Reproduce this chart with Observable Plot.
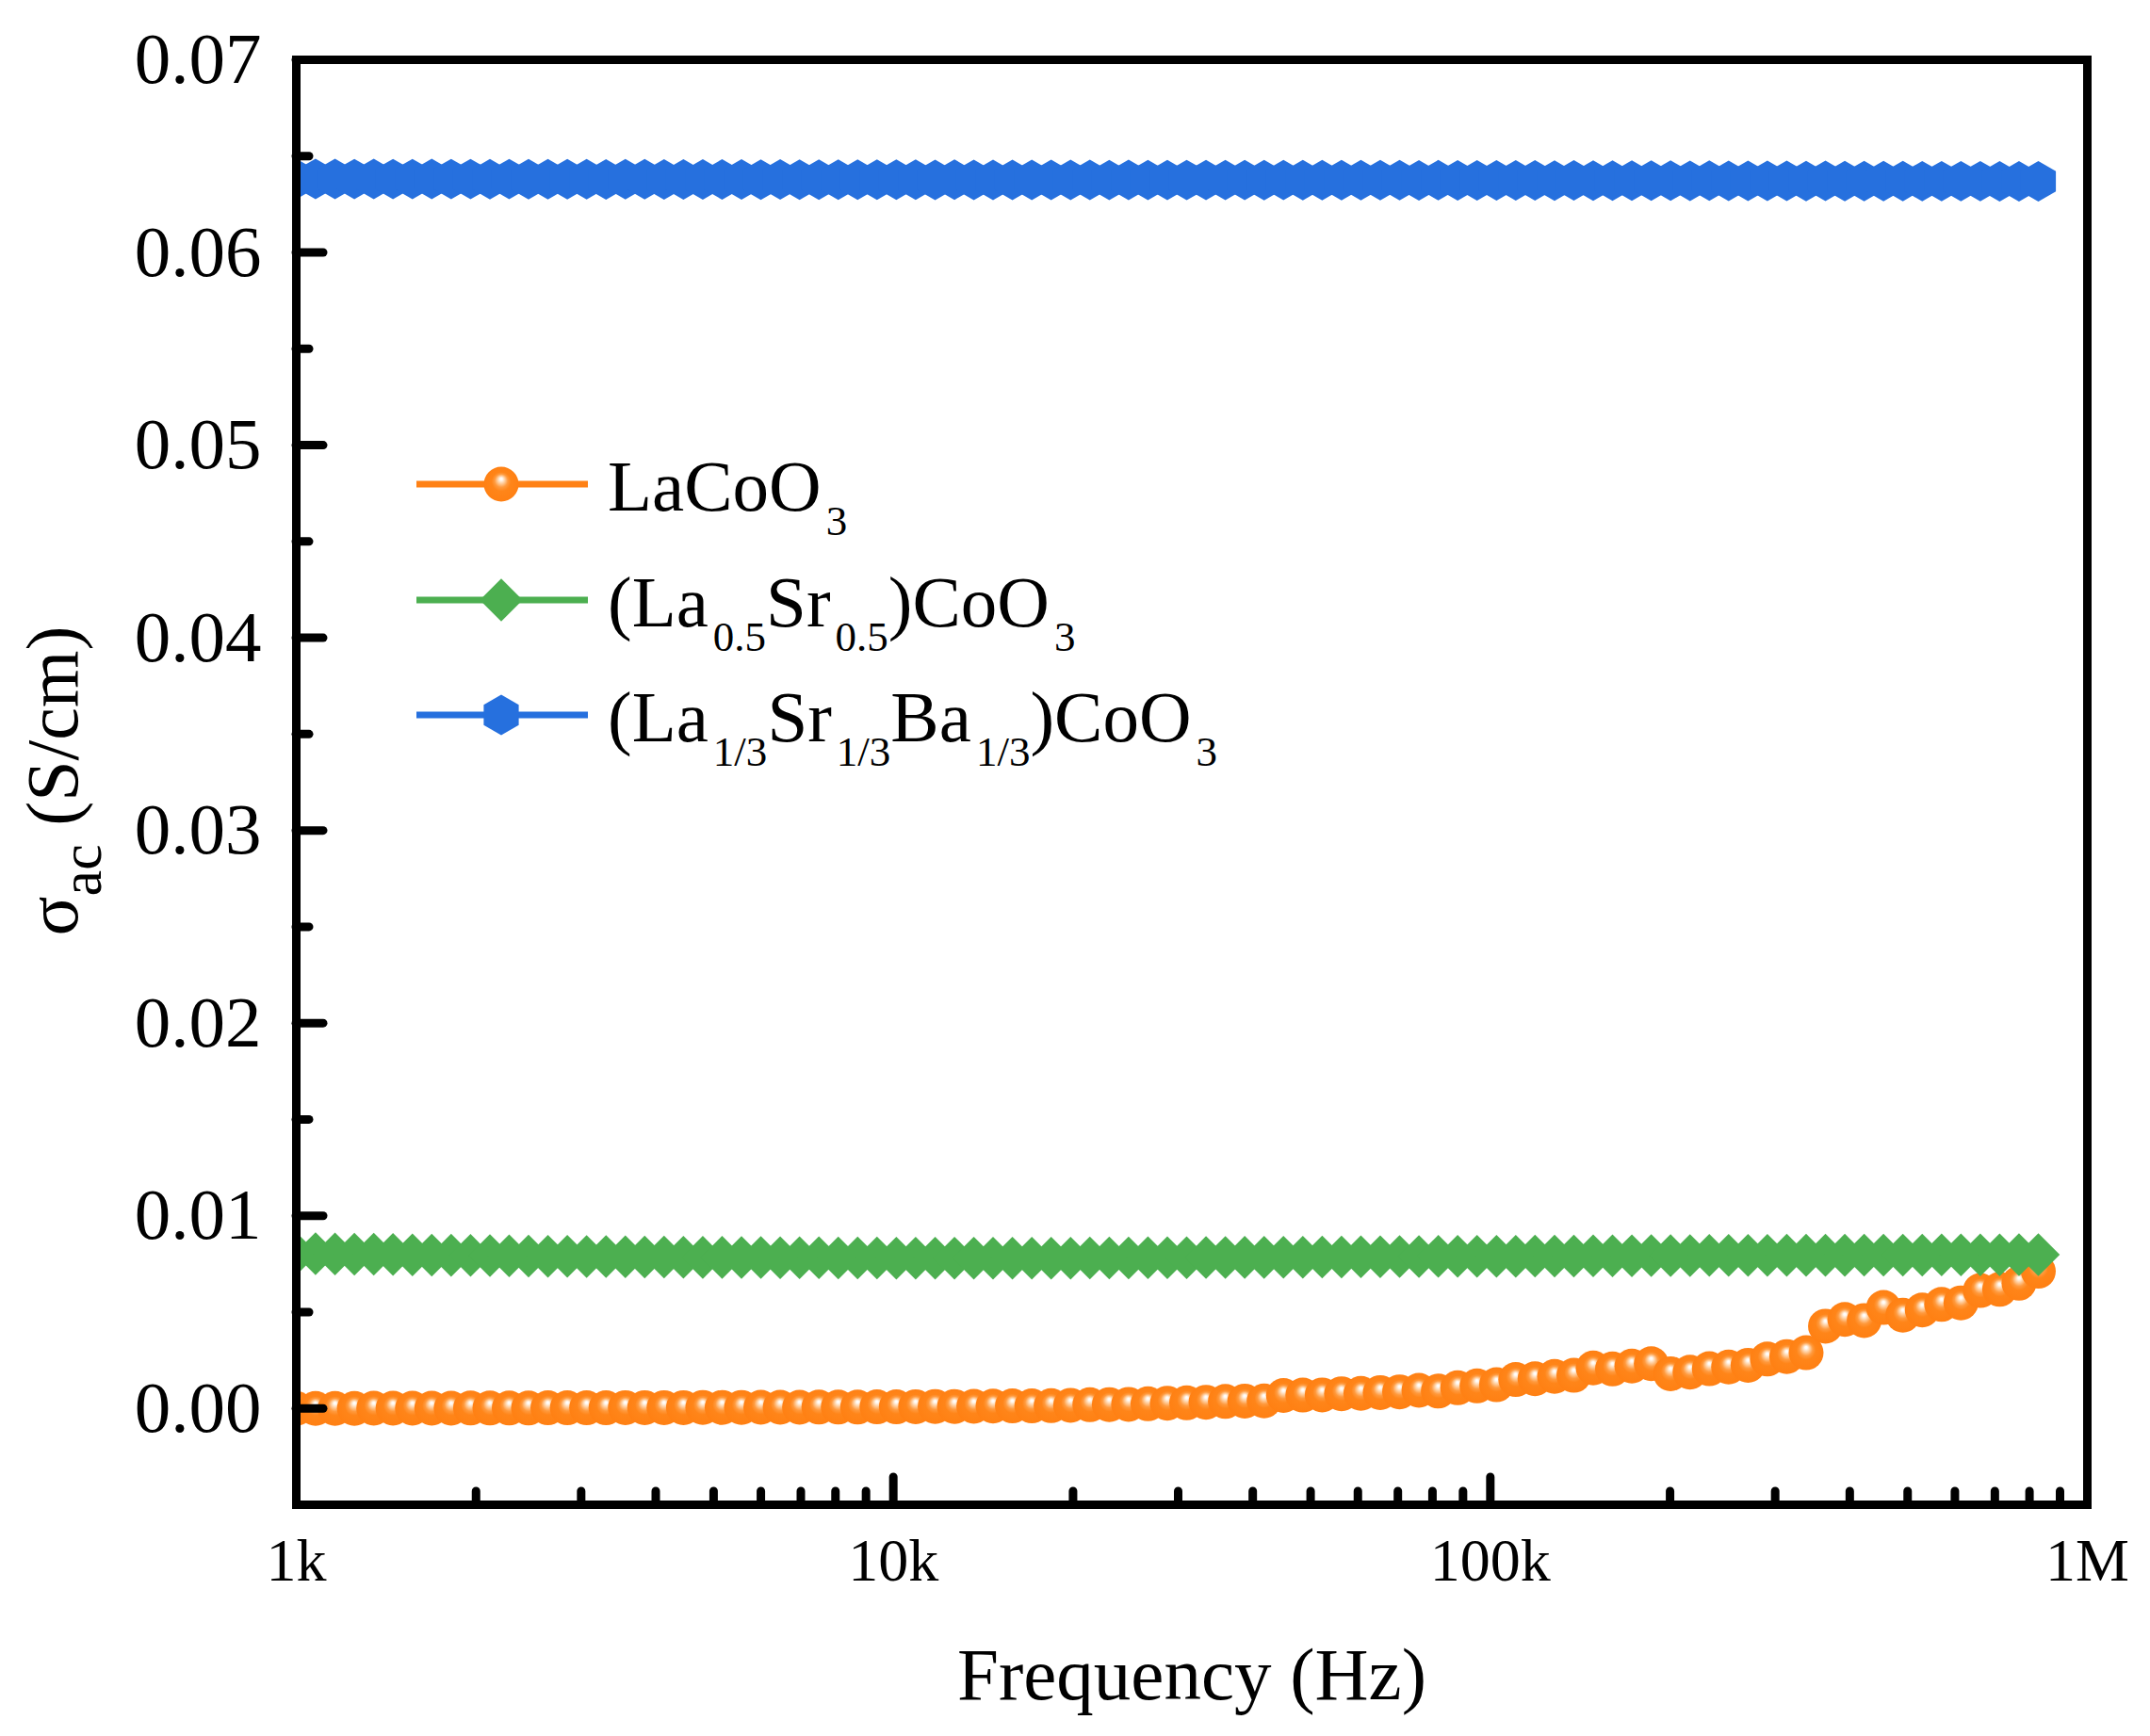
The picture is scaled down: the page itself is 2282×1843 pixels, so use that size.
<!DOCTYPE html>
<html>
<head>
<meta charset="utf-8">
<script src="https://cdn.jsdelivr.net/npm/d3@7"></script>
<script src="https://cdn.jsdelivr.net/npm/@observablehq/plot@0.6"></script>
<style>
  html, body { margin: 0; padding: 0; background: #fff; overflow: hidden; }
  svg { display: block; }
</style>
</head>
<body>
<div id="chart"></div>
<script>
// ---- data ----
const freqHz = [
  1000, 1077, 1161, 1251, 1348, 1452, 1565, 1686, 1817, 1958,
  2110, 2273, 2449, 2639, 2844, 3064, 3302, 3558, 3833, 4130,
  4451, 4796, 5167, 5568, 5999, 6464, 6965, 7505, 8087, 8714, 9389,
  10117, 10900, 11750, 12660, 13640, 14690, 15830, 17060, 18380, 19810,
  21340, 23000, 24780, 26700, 28770, 31000, 33400, 35990, 38780, 41790,
  45030, 48520, 52280, 56330, 60700, 65400, 70470, 75930, 81820, 88160, 95000,
  102400, 110300, 118800, 128100, 138000, 148700, 160200, 172600, 186000, 200400,
  216000, 232700, 250700, 270200, 291100, 313700, 338000, 364200, 392400, 422800,
  455600, 490900, 529000, 570000, 614100, 661700, 713000, 768300, 827800
];
const lacoo3 = [
  0.00000, 0.00000, 0.00000, 0.00000, 0.00001, 0.00001, 0.00001, 0.00001, 0.00001, 0.00002,
  0.00002, 0.00002, 0.00002, 0.00003, 0.00003, 0.00003, 0.00003, 0.00004, 0.00004, 0.00004,
  0.00004, 0.00005, 0.00005, 0.00005, 0.00006, 0.00006, 0.00006, 0.00007, 0.00007, 0.00007, 0.00008,
  0.00008, 0.00009, 0.00010, 0.00010, 0.00011, 0.00012, 0.00013, 0.00013, 0.00014, 0.00016,
  0.00019, 0.00020, 0.00021, 0.00024, 0.00027, 0.00029, 0.00032, 0.00036, 0.00038, 0.00039,
  0.00067, 0.00069, 0.00070, 0.00076, 0.00078, 0.00082, 0.00086, 0.00094, 0.00090, 0.00107, 0.00117,
  0.00123, 0.00150, 0.00154, 0.00166, 0.00172, 0.00210, 0.00205, 0.00220, 0.00232, 0.00180,
  0.00188, 0.00206, 0.00215, 0.00224, 0.00256, 0.00269, 0.00289, 0.00427, 0.00462, 0.00456,
  0.00524, 0.00484, 0.00511, 0.00540, 0.00548, 0.00612, 0.00618, 0.00650, 0.00712
];
const laSr = [
  0.00803, 0.00803, 0.00802, 0.00801, 0.00800, 0.00799, 0.00797, 0.00796, 0.00795, 0.00794,
  0.00793, 0.00792, 0.00791, 0.00790, 0.00789, 0.00788, 0.00788, 0.00787, 0.00786, 0.00786,
  0.00785, 0.00784, 0.00784, 0.00783, 0.00783, 0.00782, 0.00782, 0.00782, 0.00781, 0.00781, 0.00781,
  0.00780, 0.00780, 0.00780, 0.00780, 0.00780, 0.00780, 0.00780, 0.00780, 0.00780, 0.00780,
  0.00781, 0.00781, 0.00781, 0.00782, 0.00782, 0.00782, 0.00783, 0.00783, 0.00784, 0.00784,
  0.00785, 0.00785, 0.00786, 0.00786, 0.00787, 0.00787, 0.00788, 0.00788, 0.00789, 0.00789, 0.00790,
  0.00790, 0.00790, 0.00791, 0.00791, 0.00791, 0.00792, 0.00792, 0.00792, 0.00793, 0.00793,
  0.00793, 0.00794, 0.00794, 0.00794, 0.00794, 0.00795, 0.00795, 0.00795, 0.00795, 0.00796,
  0.00796, 0.00796, 0.00796, 0.00797, 0.00797, 0.00797, 0.00797, 0.00798, 0.00798
];
const laSrBa = [
  0.06382, 0.06382, 0.06382, 0.06381, 0.06382, 0.06381, 0.06381, 0.06382, 0.06381, 0.06381,
  0.06380, 0.06381, 0.06380, 0.06380, 0.06380, 0.06380, 0.06379, 0.06380, 0.06380, 0.06379,
  0.06379, 0.06379, 0.06379, 0.06379, 0.06378, 0.06379, 0.06378, 0.06378, 0.06378, 0.06378, 0.06378,
  0.06378, 0.06378, 0.06377, 0.06378, 0.06377, 0.06377, 0.06377, 0.06377, 0.06377, 0.06377,
  0.06377, 0.06376, 0.06377, 0.06376, 0.06376, 0.06376, 0.06376, 0.06376, 0.06376, 0.06375,
  0.06376, 0.06375, 0.06375, 0.06375, 0.06375, 0.06375, 0.06375, 0.06374, 0.06375, 0.06374, 0.06374,
  0.06374, 0.06374, 0.06374, 0.06373, 0.06374, 0.06373, 0.06373, 0.06373, 0.06373, 0.06373,
  0.06372, 0.06373, 0.06372, 0.06372, 0.06372, 0.06372, 0.06371, 0.06372, 0.06371, 0.06371,
  0.06371, 0.06371, 0.06370, 0.06370, 0.06370, 0.06370, 0.06369, 0.06369, 0.06369
];

const seriesColors = ["#FF8115", "#4CAF50", "#2670DE"];
const seriesSymbols = ["circle", "diamond2", "hexagon"];

const xTicks = [1e3, 1e4, 1e5, 1e6];
const xTickLabels = ["1k", "10k", "100k", "1M"];
const xMajorInner = [1e4, 1e5];
const xMinor = [2e3, 3e3, 4e3, 5e3, 6e3, 7e3, 8e3, 9e3,
                2e4, 3e4, 4e4, 5e4, 6e4, 7e4, 8e4, 9e4,
                2e5, 3e5, 4e5, 5e5, 6e5, 7e5, 8e5, 9e5];
const yTicks = [0, 0.01, 0.02, 0.03, 0.04, 0.05, 0.06, 0.07];
const yTickLabels = ["0.00", "0.01", "0.02", "0.03", "0.04", "0.05", "0.06", "0.07"];
const yMinor = [0.005, 0.015, 0.025, 0.035, 0.045, 0.055, 0.065];

// ---- layout ----
const W = 2282, H = 1843;
const mL = 314, mR = 67, mT = 63, mB = 246;
const plotW = W - mL - mR, plotH = H - mT - mB;
const serif = "'Liberation Serif', 'Times New Roman', serif";
const majorLen = 29, minorLen = 14, tickW = 9;

const rows = freqHz.map((f, i) => ({f, a: lacoo3[i], b: laSr[i], c: laSrBa[i]}));

const radii = [18.5, 20.5, 18.6];

const svg = Plot.plot({
  width: W, height: H,
  marginLeft: mL, marginRight: mR, marginTop: mT, marginBottom: mB,
  style: {background: "white", fontFamily: serif, color: "black", overflow: "visible"},
  x: {type: "log", domain: [1e3, 1e6], axis: null},
  y: {domain: [-0.005, 0.07], axis: null},
  marks: [
    Plot.line(rows, {x: "f", y: "a", stroke: seriesColors[0], strokeWidth: 6, clip: true}),
    Plot.dot(rows, {x: "f", y: "a", r: radii[0], symbol: seriesSymbols[0], fill: "url(#sphere)", stroke: "none", clip: true}),
    Plot.line(rows, {x: "f", y: "b", stroke: seriesColors[1], strokeWidth: 6, clip: true}),
    Plot.dot(rows, {x: "f", y: "b", r: radii[1], symbol: seriesSymbols[1], fill: seriesColors[1], stroke: "none", clip: true}),
    Plot.line(rows, {x: "f", y: "c", stroke: seriesColors[2], strokeWidth: 6, clip: true}),
    Plot.dot(rows, {x: "f", y: "c", r: radii[2], symbol: seriesSymbols[2], fill: seriesColors[2], stroke: "none", clip: true}),

    // inward ticks
    Plot.tickY(yTicks, {y: d => d, insetRight: plotW - majorLen, stroke: "black", strokeWidth: tickW, strokeLinecap: "round"}),
    Plot.tickY(yMinor, {y: d => d, insetRight: plotW - minorLen, stroke: "black", strokeWidth: tickW, strokeLinecap: "round"}),
    Plot.tickX(xMajorInner, {x: d => d, insetTop: plotH - majorLen, stroke: "black", strokeWidth: tickW, strokeLinecap: "round"}),
    Plot.tickX(xMinor, {x: d => d, insetTop: plotH - minorLen, stroke: "black", strokeWidth: tickW, strokeLinecap: "round"}),

    Plot.frame({stroke: "black", strokeWidth: 9}),

    // tick labels
    Plot.text(yTicks, {y: d => d, text: (d, i) => yTickLabels[i], frameAnchor: "left", textAnchor: "end",
      dx: -37, lineAnchor: "middle", fontSize: 77, fontFamily: serif, fill: "black"}),
    Plot.text(xTicks, {x: d => d, text: (d, i) => xTickLabels[i], frameAnchor: "bottom", textAnchor: "middle",
      dy: 60, lineAnchor: "middle", fontSize: 64, fontFamily: serif, fill: "black"}),
    // x axis title
    Plot.text(["Frequency (Hz)"], {text: d => d, frameAnchor: "bottom", dy: 181, lineAnchor: "middle",
      fontSize: 79, fontFamily: serif, fill: "black"})
  ]
});

const NS = "http://www.w3.org/2000/svg";
function el(tag, attrs, parent) {
  const e = document.createElementNS(NS, tag);
  for (const k in attrs) e.setAttribute(k, attrs[k]);
  if (parent) parent.appendChild(e);
  return e;
}

// gradient for the shiny orange spheres (small soft highlight, upper centre)
const defs = el("defs", {});
const grad = el("radialGradient", {id: "sphere", cx: "0.5", cy: "0.5", r: "0.5", fx: "0.5", fy: "0.34"}, defs);
[["0", "#ffffff"], ["0.07", "#fffaf4"], ["0.2", "#ffd2a6"], ["0.38", "#ff9a3e"], ["0.55", "#ff8519"], ["1", "#ff8013"]]
  .forEach(([o, c]) => el("stop", {offset: o, "stop-color": c}, grad));
svg.insertBefore(defs, svg.firstChild);

// y axis title: σ_ac (S/cm)
const yt = el("text", {transform: "translate(82,829) rotate(-90)", "text-anchor": "middle",
  "font-family": serif, "font-size": 78, fill: "black"}, svg);
yt.appendChild(document.createTextNode("σ"));
const ytSub = el("tspan", {"font-size": 62, dy: 25}, yt); ytSub.textContent = "ac";
const ytRest = el("tspan", {"font-size": 78, dy: -25}, yt); ytRest.textContent = " (S/cm)";

// legend
const legendParts = [
  [["LaCoO", 0], ["3", 1]],
  [["(La", 0], ["0.5", 1], ["Sr", 0], ["0.5", 1], [")CoO", 0], ["3", 1]],
  [["(La", 0], ["1/3", 1], ["Sr", 0], ["1/3", 1], ["Ba", 0], ["1/3", 1], [")CoO", 0], ["3", 1]]
];
const legendY = [514, 637, 759];
const mainFs = 77, subFs = 45, subShift = 26, subGap = 5;
const lg = el("g", {"text-anchor": "start"}, svg);
function hexPath(r) {
  const rx = r, ry = r * 2 / Math.sqrt(3), hy = ry / 2;
  return `M0,${ry}L${rx},${hy}L${rx},${-hy}L0,${-ry}L${-rx},${-hy}L${-rx},${hy}Z`;
}
legendParts.forEach((parts, i) => {
  const y = legendY[i];
  el("line", {x1: 442, x2: 624, y1: y, y2: y, stroke: seriesColors[i], "stroke-width": 7}, lg);
  if (i === 0) {
    el("circle", {cx: 532, cy: y, r: radii[0], fill: "url(#sphere)"}, lg);
  } else if (i === 1) {
    const p = d3.symbol(d3.symbolDiamond2, Math.PI * radii[1] * radii[1])();
    el("path", {d: p, transform: `translate(532,${y})`, fill: seriesColors[1]}, lg);
  } else {
    el("path", {d: hexPath(radii[2]), transform: `translate(532,${y})`, fill: seriesColors[2]}, lg);
  }
  const t = el("text", {x: 645, y: y + 28, "text-anchor": "start", "font-family": serif, "font-size": mainFs, fill: "black"}, lg);
  parts.forEach(([s, isSub]) => {
    const attrs = isSub
      ? {dy: subShift, dx: subGap, "font-size": subFs}
      : {dy: 0, "font-size": mainFs};
    const ts = el("tspan", attrs, t);
    ts.textContent = s;
  });
  // reset baseline after each subscript: rebuild dy so main text returns to baseline
  const spans = t.querySelectorAll("tspan");
  let shifted = false;
  spans.forEach(sp => {
    const isSub = sp.getAttribute("font-size") == String(subFs);
    if (isSub) { sp.setAttribute("dy", shifted ? 0 : subShift); shifted = true; }
    else { sp.setAttribute("dy", shifted ? -subShift : 0); shifted = false; }
  });
});

document.getElementById("chart").appendChild(svg);
</script>
</body>
</html>
